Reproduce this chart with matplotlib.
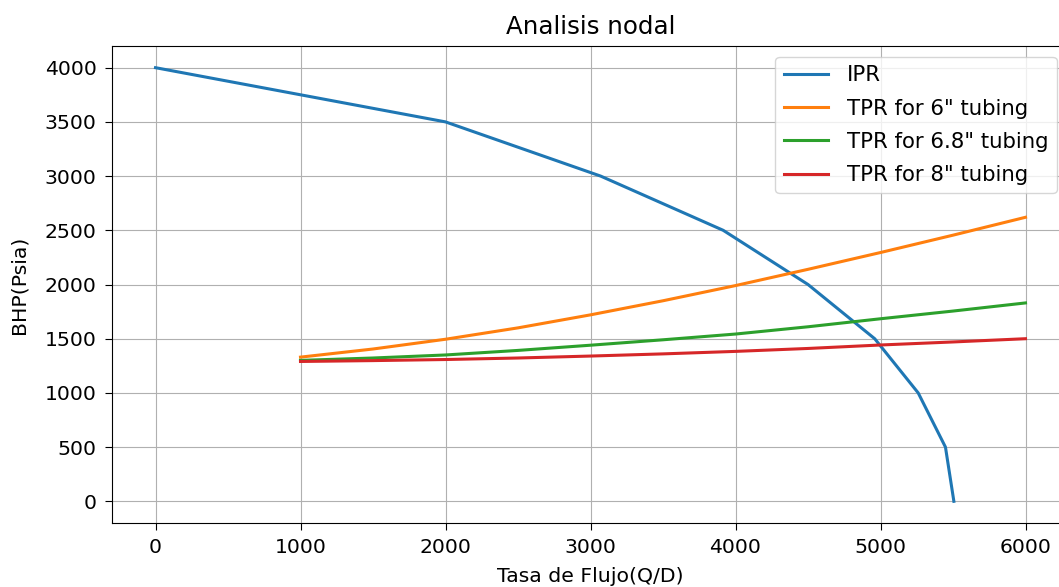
import matplotlib.pyplot as plt

# IPR (curva de afluencia)
q_ipr = [0, 2000, 3070, 3915, 4500, 4960, 5260, 5448, 5506]
p_ipr = [4000, 3500, 3000, 2500, 2000, 1500, 1000, 500, 0]

# TPR para cada diametro de tubing
q_tpr = [1000, 1500, 2000, 2500, 3000, 3500, 4000, 4500, 5000, 5500, 6000]
p_tpr_6 = [1330, 1405, 1495, 1600, 1720, 1850, 1990, 2140, 2295, 2455, 2620]
p_tpr_68 = [1300, 1322, 1350, 1392, 1440, 1490, 1543, 1610, 1684, 1755, 1830]
p_tpr_8 = [1290, 1298, 1308, 1322, 1340, 1360, 1383, 1410, 1442, 1470, 1500]

plt.rcParams['font.size'] = 14.7
plt.rcParams['xtick.major.size'] = 5
plt.rcParams['ytick.major.size'] = 5
plt.rcParams['xtick.major.pad'] = 6
plt.rcParams['ytick.major.pad'] = 6

fig = plt.figure(figsize=(10.59, 5.87), dpi=100)
ax = fig.add_axes([112 / 1059, 1 - 523 / 587, 957 / 1059, 477 / 587])

ax.plot(q_ipr, p_ipr, label='IPR', lw=2.2)
ax.plot(q_tpr, p_tpr_6, label='TPR for 6" tubing', lw=2.2)
ax.plot(q_tpr, p_tpr_68, label='TPR for 6.8" tubing', lw=2.2)
ax.plot(q_tpr, p_tpr_8, label='TPR for 8" tubing', lw=2.2)

ax.set_xlim(-300, 6300)
ax.set_ylim(-200, 4200)
ax.set_xlabel('Tasa de Flujo(Q/D)', labelpad=7)
ax.set_ylabel('BHP(Psia)', labelpad=12)
ax.set_title('Analisis nodal', pad=9)
ax.grid(True)
ax.legend(loc='upper right', bbox_to_anchor=(0.987, 0.977), borderaxespad=0,
          labelspacing=0.62, fontsize=15.3, handlelength=2.1, handletextpad=0.85)

fig.savefig('out.png', dpi=100)
